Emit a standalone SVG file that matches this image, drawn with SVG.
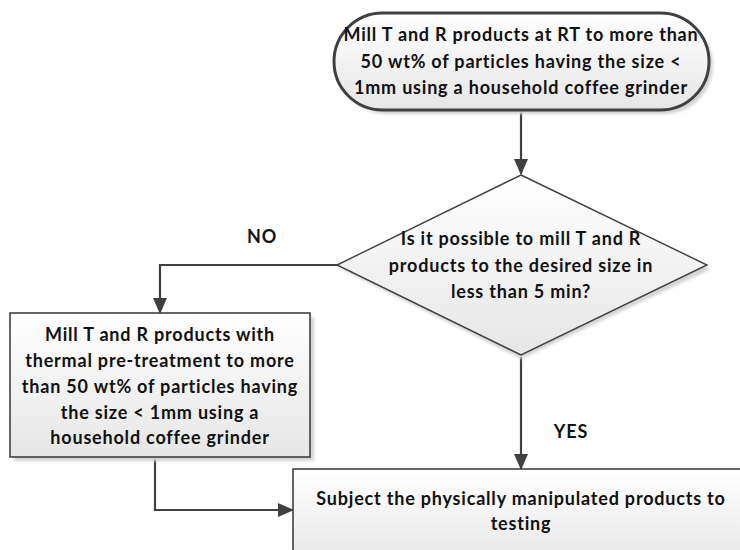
<svg xmlns="http://www.w3.org/2000/svg" width="740" height="550" viewBox="0 0 740 550">
  <defs>
    <linearGradient id="fillGrad" x1="0" y1="0" x2="0" y2="1">
      <stop offset="0" stop-color="#ffffff"/>
      <stop offset="1" stop-color="#e6e6e6"/>
    </linearGradient>
    <filter id="shadow" x="-10%" y="-10%" width="130%" height="140%">
      <feGaussianBlur stdDeviation="1.5"/>
    </filter>
    <marker id="arrow" markerWidth="16" markerHeight="16" refX="15" refY="8" orient="auto" markerUnits="userSpaceOnUse">
      <path d="M0,1 L16,8 L0,15 Z" fill="#404040"/>
    </marker>
    <style>
      .lbl { font-family: Lato, "Open Sans", "Liberation Sans", sans-serif; font-weight: bold; font-size: 18px; letter-spacing: 0.8px; fill: #111; text-anchor: middle; }
      .shadow { fill: #d4d4d4; filter: url(#shadow); }
      .shape { fill: url(#fillGrad); stroke: #404040; }
      .conn { fill: none; stroke: #404040; stroke-width: 2.2; }
    </style>
  </defs>

  <rect width="740" height="550" fill="#ffffff"/>

  <!-- connectors -->
  <g id="connectors">
    <path class="conn" d="M521,110 L521,174" marker-end="url(#arrow)"/>
    <path class="conn" d="M521,355 L521,469" marker-end="url(#arrow)"/>
    <path class="conn" d="M337,265 L160,265 L160,313" marker-end="url(#arrow)"/>
    <path class="conn" d="M155,457 L155,510 L293,510" marker-end="url(#arrow)"/>
  </g>

  <!-- start: terminator -->
  <g id="start">
    <rect class="shadow" x="338" y="17" width="375" height="97" rx="48.5"/>
    <rect class="shape" x="334" y="13" width="375" height="97" rx="48.5" stroke-width="3"/>
    <text class="lbl" x="521" y="41">Mill T and R products at RT to more than</text>
    <text class="lbl" x="521" y="68">50 wt% of particles having the size &lt;</text>
    <text class="lbl" x="521" y="94">1mm using a household coffee grinder</text>
  </g>

  <!-- decision -->
  <g id="decision">
    <path class="shadow" d="M521,179 L711,269 L521,359 L341,269 Z"/>
    <path class="shape" d="M521,175 L707,265 L521,355 L337,265 Z" stroke-width="1.4"/>
    <text class="lbl" x="521" y="245">Is it possible to mill T and R</text>
    <text class="lbl" x="521" y="272">products to the desired size in</text>
    <text class="lbl" x="521" y="298">less than 5 min?</text>
  </g>

  <!-- thermal pre-treatment branch -->
  <g id="pretreat">
    <rect class="shadow" x="14" y="317" width="300" height="144"/>
    <rect class="shape" x="10" y="313" width="300" height="144" stroke-width="1.6"/>
    <text class="lbl" x="160" y="341">Mill T and R products with</text>
    <text class="lbl" x="160" y="367">thermal pre-treatment to more</text>
    <text class="lbl" x="160" y="393">than 50 wt% of particles having</text>
    <text class="lbl" x="160" y="419">the size &lt; 1mm using a</text>
    <text class="lbl" x="160" y="444">household coffee grinder</text>
  </g>

  <!-- testing -->
  <g id="testing">
    <rect class="shadow" x="297" y="473" width="460" height="100"/>
    <rect class="shape" x="293" y="469" width="460" height="100" stroke-width="1.6"/>
    <text class="lbl" x="521" y="505">Subject the physically manipulated products to</text>
    <text class="lbl" x="521" y="530">testing</text>
  </g>

  <!-- branch labels -->
  <g id="labels">
    <text class="lbl" x="262" y="243">NO</text>
    <text class="lbl" x="571" y="438">YES</text>
  </g>
</svg>
